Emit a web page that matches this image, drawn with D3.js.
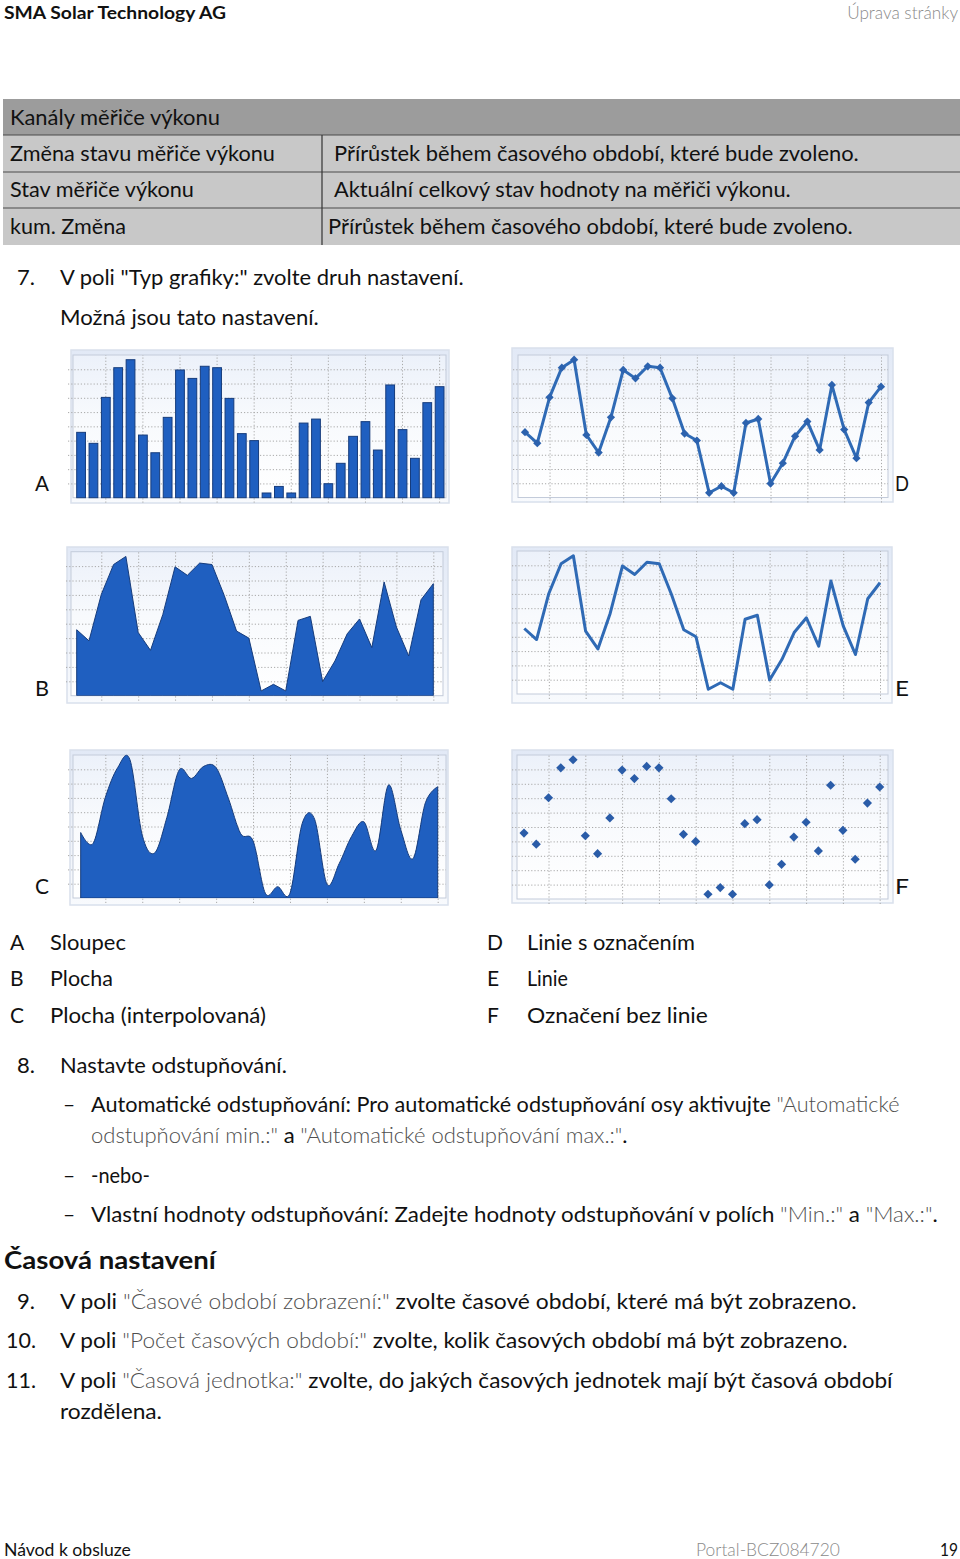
<!DOCTYPE html>
<html><head><meta charset="utf-8">
<script src="https://cdn.jsdelivr.net/npm/d3@7"></script>
<style>body{margin:0;background:#fff}svg{display:block}</style>
</head><body>
<svg id="page" width="960" height="1559"></svg>
<script>
// ---------- data ----------
const categories = [1,2,3,4,5,6,7,8,9,10,11,12,13,14,15,16,17,18,19,20,21,22,23,24,25,26,27,28,29,30];
const values = [4.58,3.81,7.03,9.11,9.67,4.39,3.15,5.63,8.95,8.36,9.21,9.11,6.96,4.49,4.00,0.33,0.79,0.33,5.23,5.51,0.98,2.41,4.30,5.33,3.34,7.90,4.77,2.76,6.66,7.78];
const gridCategories = [3,6,9,12,15,18,21,24,27,30];
const gridValues = [1,2,3,4,5,6,7,8,9];
const yDomain = [0,10];
const chartLetters = ["A","B","C","D","E","F"];
const chartTypes = ["bar","area","smoothArea","lineMarkers","line","markers"];
const legendNames = ["Sloupec","Plocha","Plocha (interpolovaná)","Linie s označením","Linie","Označení bez linie"];
const tableRows = [["Změna stavu měřiče výkonu","Přírůstek během časového období, které bude zvoleno."],
                   ["Stav měřiče výkonu","Aktuální celkový stav hodnoty na měřiči výkonu."],
                   ["kum. Změna","Přírůstek během časového období, které bude zvoleno."]];

// ---------- layout ----------
const svg = d3.select("#page");
const FONT = "Lato, 'Open Sans', sans-serif";
const BLUE = "#1f5fc0", DARK = "#163c7c", LINE = "#2f6ab5";

const defs = svg.append("defs");
const gp = defs.append("linearGradient").attr("id","panelGrad").attr("x1",0).attr("y1",0).attr("x2",0).attr("y2",1);
gp.append("stop").attr("offset","0%").attr("stop-color","#e2e9f6");
gp.append("stop").attr("offset","100%").attr("stop-color","#f8fafd");
const gq = defs.append("linearGradient").attr("id","plotGrad").attr("x1",0).attr("y1",0).attr("x2",0).attr("y2",1);
gq.append("stop").attr("offset","0%").attr("stop-color","#ecf1fa");
gq.append("stop").attr("offset","45%").attr("stop-color","#f8fafd");
gq.append("stop").attr("offset","100%").attr("stop-color","#ffffff");

function txt(x, y, parts, o = {}) {
  if (typeof parts === "string") parts = [[parts, ""]];
  const t = svg.append("text")
    .attr("font-family", FONT).attr("font-size", o.size || 21)
    .attr("font-weight", o.weight || 400).attr("fill", o.color || "#111")
    .attr("text-anchor", o.anchor || "start")
    .attr("transform", `translate(${x},${y})`);
  parts.forEach(([s, st]) => {
    const ts = t.append("tspan").text(s);
    if (st === "g") ts.attr("fill", "#4f4f4f").attr("font-weight", 300);
  });
  if (o.w) {
    const nat = t.node().getComputedTextLength();
    if (nat > 0) t.attr("transform", `translate(${x},${y}) scale(${o.w / nat},1)`);
  }
  return t;
}

// header / footer
txt(4, 19, "SMA Solar Technology AG", {size:17, weight:700, w:222});
txt(958, 19, "Úprava stránky", {size:17, color:"#8a8a8a", weight:300, anchor:"end", w:111});
txt(4, 1556, "Návod k obsluze", {size:17, w:127});
txt(696, 1556, "Portal-BCZ084720", {size:17, color:"#8a8a8a", weight:300, w:144});
txt(958, 1556, "19", {size:17, anchor:"end", w:18});

// table
svg.append("rect").attr("x",3).attr("y",99).attr("width",957).attr("height",36).attr("fill","#9c9c9c");
svg.append("rect").attr("x",3).attr("y",135).attr("width",957).attr("height",110).attr("fill","#c8c8c8");
[135,172,208].forEach(yy => svg.append("line").attr("x1",3).attr("x2",960).attr("y1",yy).attr("y2",yy).attr("stroke","#4a4a4a").attr("stroke-width",1));
svg.append("line").attr("x1",322).attr("x2",322).attr("y1",135).attr("y2",245).attr("stroke","#333").attr("stroke-width",1.2);
txt(10, 125, "Kanály měřiče výkonu", {w:210});
const rowY = [161,197,234], rowW1 = [265,184,116], rowX2 = [334,334,328], rowW2 = [525,457,525];
tableRows.forEach((r,i) => { txt(10,rowY[i],r[0],{w:rowW1[i]}); txt(rowX2[i],rowY[i],r[1],{w:rowW2[i]}); });

// step 7
txt(17, 285, "7.", {w:18});
txt(60, 285, 'V poli "Typ grafiky:" zvolte druh nastavení.', {w:404});
txt(60, 325, "Možná jsou tato nastavení.", {w:259});

// ---------- charts ----------
const charts = [
  {panel:[71,350,378,153], plot:[73,355,373,142.7], xr:[74.9,445.8], lx:35, ly:491},
  {panel:[67,547,381,156], plot:[71,551.7,372,144], xr:[76.7,433.3], lx:35, ly:696},
  {panel:[70,750,378,155], plot:[73,755,373,143], xr:[80.7,437.7], lx:35, ly:894},
  {panel:[512,348,381,154], plot:[518,355,370,142.5], xr:[525,881], lx:895, ly:491},
  {panel:[512,547,380,156], plot:[517,551,371,143], xr:[524.3,880], lx:895, ly:696},
  {panel:[512,750,381,153], plot:[517,755,371,144], xr:[524,879.7], lx:895, ly:894}
];

const data = categories.map((c,i) => ({c, v: values[i]}));

charts.forEach((cfg, k) => {
  const type = chartTypes[k];
  const [px,py,pw,ph] = cfg.plot;
  const g = svg.append("g");
  g.append("rect").attr("x",cfg.panel[0]).attr("y",cfg.panel[1]).attr("width",cfg.panel[2]).attr("height",cfg.panel[3])
    .attr("fill","url(#panelGrad)").attr("stroke","#d9e0ec").attr("stroke-width",1.5);
  g.append("rect").attr("x",px).attr("y",py).attr("width",pw).attr("height",ph)
    .attr("fill","url(#plotGrad)").attr("stroke","#c3cbda").attr("stroke-width",1);

  const y = d3.scaleLinear().domain(yDomain).range([py+ph, py]);
  const x = type === "bar"
    ? d3.scaleBand().domain(categories).range(cfg.xr).paddingInner(0.29).paddingOuter(0.145)
    : d3.scalePoint().domain(categories).range(cfg.xr);
  const xc = c => type === "bar" ? x(c) + x.bandwidth()/2 : x(c);

  const gy = g.append("g").attr("transform",`translate(${px-5},0)`)
    .call(d3.axisLeft(y).tickValues(gridValues).tickSize(-(pw+5)).tickFormat(""));
  const gx = g.append("g").attr("transform",`translate(0,${py+ph+5})`)
    .call(d3.axisBottom(x).tickValues(gridCategories).tickSize(-(ph+5)).tickFormat(""));
  [gy,gx].forEach(a => { a.select(".domain").remove();
    a.selectAll(".tick line").attr("stroke","#a9a9a9").attr("stroke-width",1).attr("stroke-dasharray","1.2,2"); });

  const clipId = "clip"+k;
  defs.append("clipPath").attr("id",clipId).append("rect").attr("x",px).attr("y",py-6).attr("width",pw).attr("height",ph+6);

  if (type === "bar") {
    g.selectAll("rect.bar").data(data).join("rect").attr("class","bar")
      .attr("x", d => x(d.c)).attr("width", x.bandwidth())
      .attr("y", d => y(d.v)).attr("height", d => y(0) - y(d.v))
      .attr("fill", BLUE).attr("stroke", DARK).attr("stroke-width", 1);
  } else if (type === "area" || type === "smoothArea") {
    const area = d3.area().x(d => xc(d.c)).y0(y(0)).y1(d => y(d.v))
      .curve(type === "area" ? d3.curveLinear : d3.curveCardinal.tension(0));
    g.append("path").datum(data).attr("d", area).attr("clip-path",`url(#${clipId})`)
      .attr("fill", BLUE).attr("stroke", DARK).attr("stroke-width", 1);
  } else {
    if (type !== "markers") {
      g.append("path").datum(data).attr("d", d3.line().x(d => xc(d.c)).y(d => y(d.v)))
        .attr("fill","none").attr("stroke",LINE).attr("stroke-width",3).attr("stroke-linejoin","round");
    }
    if (type !== "line") {
      const sym = d3.symbol(d3.symbolSquare, type === "markers" ? 42 : 34);
      g.selectAll("path.mk").data(data).join("path").attr("class","mk")
        .attr("d", sym).attr("transform", d => `translate(${xc(d.c)},${y(d.v)}) rotate(45)`)
        .attr("fill", type === "markers" ? "#2a5ca8" : "#2c62ae");
    }
  }
  txt(cfg.lx, cfg.ly, chartLetters[k], {w:14});
});

// legend
const legX = [10,10,10,487,487,487], legTX = [50,50,50,527,527,527], legY = [950,986,1023,950,986,1023];
const legW = [76,63,216,168,41,181];
chartLetters.forEach((L,i) => { txt(legX[i], legY[i], L); txt(legTX[i], legY[i], legendNames[i], {w:legW[i]}); });

// step 8
txt(17, 1073, "8.", {w:18});
txt(60, 1073, "Nastavte odstupňování.", {w:227});
txt(63, 1112, "–"); txt(63, 1183, "–"); txt(63, 1222, "–");
txt(91, 1112, [["Automatické odstupňování: Pro automatické odstupňování osy aktivujte ",""],['"Automatické',"g"]], {w:809});
txt(91, 1143, [['odstupňování min.:"',"g"],[" a ",""],['"Automatické odstupňování max.:"',"g"],[".",""]], {w:537});
txt(91, 1183, "-nebo-", {w:59});
txt(91, 1222, [["Vlastní hodnoty odstupňování: Zadejte hodnoty odstupňování v polích ",""],['"Min.:"',"g"],[" a ",""],['"Max.:"',"g"],[".",""]], {w:847});

txt(4, 1269, "Časová nastavení", {size:24, weight:700, w:212});
txt(17, 1309, "9.", {w:18});
txt(60, 1309, [["V poli ",""],['"Časové období zobrazení:"',"g"],[" zvolte časové období, které má být zobrazeno.",""]], {w:797});
txt(6, 1348, "10.", {w:30});
txt(60, 1348, [["V poli ",""],['"Počet časových období:"',"g"],[" zvolte, kolik časových období má být zobrazeno.",""]], {w:788});
txt(6, 1388, "11.", {w:30});
txt(60, 1388, [["V poli ",""],['"Časová jednotka:"',"g"],[" zvolte, do jakých časových jednotek mají být časová období",""]], {w:833});
txt(60, 1419, "rozdělena.", {w:102});
</script>
</body></html>
